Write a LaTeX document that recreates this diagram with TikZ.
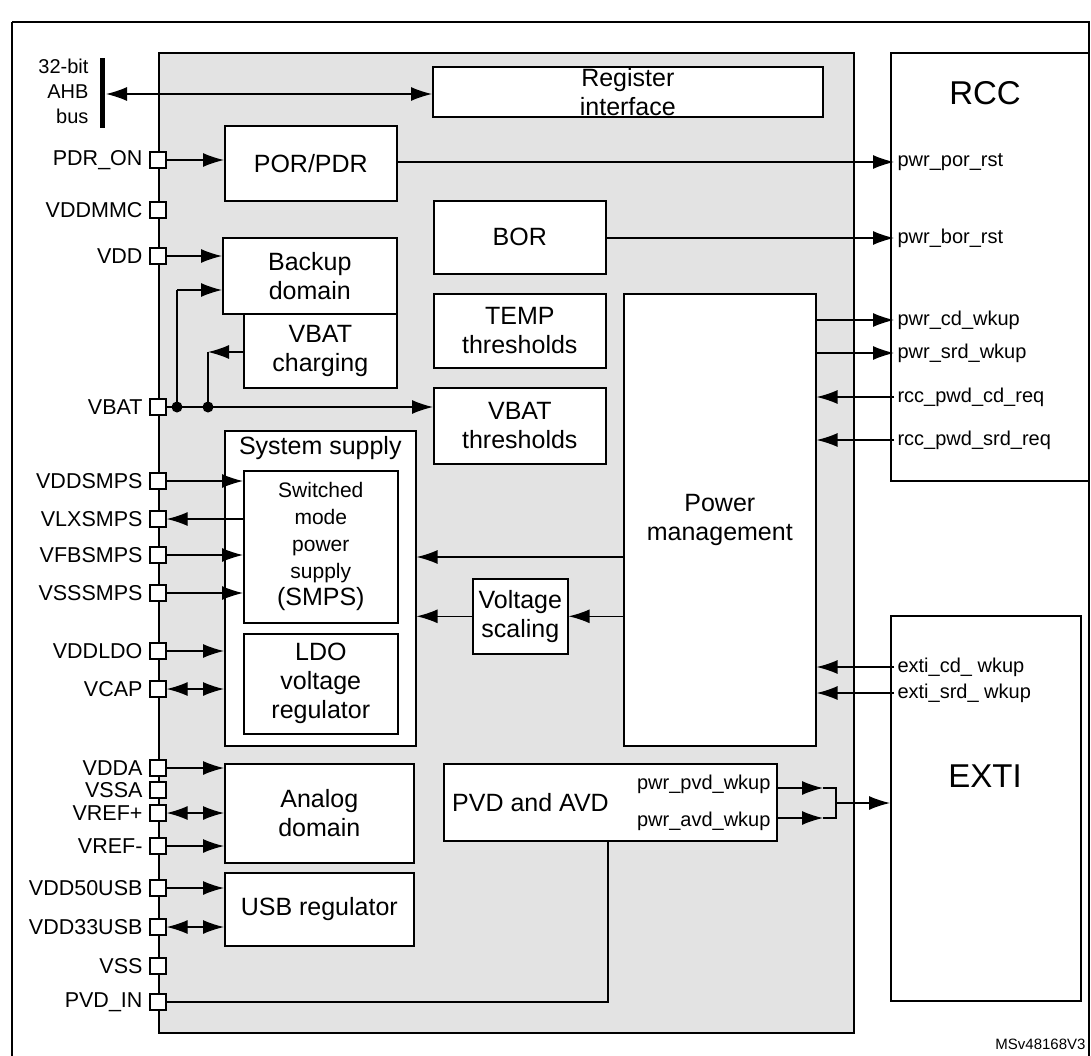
\documentclass[tikz,border=0pt]{standalone}
\usepackage{fontspec}
\setmainfont{Liberation Sans}
\usetikzlibrary{arrows.meta}
\begin{document}
\begin{tikzpicture}[x=1pt,y=-1pt,
 blk/.style={draw,fill=white,line width=1.6pt,align=center,inner sep=0pt},
 pin/.style={draw,fill=white,minimum size=16pt,inner sep=0pt,line width=1.3pt},
 plab/.style={anchor=east,font=\fontsize{21.5}{24}\selectfont},
 big/.style={font=\fontsize{25}{29}\selectfont},
 sig/.style={anchor=west,font=\fontsize{20}{22}\selectfont},
 ar/.style={-{Latex[length=21pt,width=14pt]},line width=1.3pt},
 dar/.style={{Latex[length=21pt,width=14pt]}-{Latex[length=21pt,width=14pt]},line width=1.3pt},
 ln/.style={line width=1.3pt}]
\useasboundingbox (0,0) rectangle (1091,1055);
\draw[line width=2pt] (12,22) -- (1089,22) -- (1089,1065) (12,22) -- (12,1065);
\node[draw,fill=black!11,line width=1.6pt,minimum width=695pt,minimum height=980pt,anchor=north west] (chip) at (158,52) {};
% AHB
\draw[line width=5pt] (102,58) coordinate (busT) -- (102,128) coordinate (busB);
\node[align=right,anchor=east,font=\fontsize{20}{25}\selectfont] (ahb) at (92,91) {32-bit\\AHB\\bus};
\node[blk,big,minimum width=390pt,minimum height=50pt,anchor=north west] (reg) at (432,66) {Register\\interface};
\coordinate (busM) at (106,94);
\draw[dar] (busM) -- (reg.west |- busM);
% boxes
\node[blk,big,minimum width=172pt,minimum height=75pt,anchor=north west] (por) at (224,125) {POR/PDR};
\node[blk,big,minimum width=172pt,minimum height=73pt,anchor=north west] (bor) at (433,200) {BOR};
\node[blk,big,minimum width=174pt,minimum height=76pt,anchor=north west] (bkp) at (222,237) {Backup\\domain};
\node[blk,big,minimum width=153pt,minimum height=74pt,anchor=north west] (chg) at (243,313) {VBAT\\charging};
\node[blk,big,minimum width=172pt,minimum height=74pt,anchor=north west] (temp) at (433,293) {TEMP\\thresholds};
\node[blk,big,minimum width=172pt,minimum height=76pt,anchor=north west] (vbt) at (433,387) {VBAT\\thresholds};
\node[blk,big,minimum width=192pt,minimum height=452pt,anchor=north west] (pm) at (623,293) {Power\\management};
\node[blk,minimum width=191pt,minimum height=315pt,anchor=north west] (sys) at (224,430) {};
\node[big,anchor=north,inner sep=0pt] (syst) at (sys.north) [yshift=-6pt] {System supply};
\node[blk,minimum width=154pt,minimum height=152pt,anchor=north west,font=\fontsize{21}{27}\selectfont] (smps) at (243,470) {Switched\\mode\\power\\supply\\{\fontsize{25}{27}\selectfont(SMPS)}};
\node[blk,big,minimum width=154pt,minimum height=100pt,anchor=north west] (ldo) at (243,633) {LDO\\voltage\\regulator};
\node[blk,big,minimum width=95pt,minimum height=75pt,anchor=north west] (vs) at (472,578) {Voltage\\scaling};
\node[blk,big,minimum width=189pt,minimum height=99pt,anchor=north west] (ana) at (224,763) {Analog\\domain};
\node[blk,big,minimum width=189pt,minimum height=73pt,anchor=north west] (usb) at (224,872) {USB regulator};
\node[blk,minimum width=333pt,minimum height=77pt,anchor=north west] (pvd) at (443,763) {};
\node[big,anchor=west,inner sep=0pt] (pvdt) at (452,803) {PVD and AVD};
\node[anchor=east,font=\fontsize{20}{22}\selectfont] (pvdo) at (774,784) {pwr\_pvd\_wkup};
\node[anchor=east,font=\fontsize{20}{22}\selectfont] (avdo) at (774,821) {pwr\_avd\_wkup};
% RCC / EXTI
\node[blk,minimum width=198pt,minimum height=428pt,anchor=north west] (rcc) at (890,52) {};
\node[font=\fontsize{33}{36}\selectfont] (rcct) at (985,93) {RCC};
\node[blk,minimum width=190pt,minimum height=385pt,anchor=north west] (exti) at (890,615) {};
\node[font=\fontsize{33}{36}\selectfont] (extit) at (985,776) {EXTI};
\foreach \n/\t/\y in {por/pwr\_por\_rst/162,bor/pwr\_bor\_rst/238,cd/pwr\_cd\_wkup/320,srd/pwr\_srd\_wkup/353,rcd/rcc\_pwd\_cd\_req/397,rsrd/rcc\_pwd\_srd\_req/440}
  \node[sig] (s\n) at (894,\y) {\t};
\node[sig] (ecd) at (894,667) {exti\_cd\_ wkup};
\node[sig] (esrd) at (894,693) {exti\_srd\_ wkup};
% pins
\foreach \n/\t/\y in {pdr/PDR\_ON/160,mmc/VDDMMC/210,vdd/VDD/256,vbat/VBAT/407,dsmps/VDDSMPS/481,lx/VLXSMPS/519,fb/VFBSMPS/555,ss/VSSSMPS/593,ldo/VDDLDO/651,cap/VCAP/689,vdda/VDDA/768,vssa/VSSA/790,rp/VREF+/813,rm/VREF-/846,u50/VDD50USB/888,u33/VDD33USB/927,vss/VSS/966,pin/PVD\_IN/1002}
 {\node[pin] (p\n) at (158,\y) {};
  \node[plab] (l\n) at (146,\y) {\t};}
% connections
\draw[ar] (ppdr) -- (por.west |- ppdr);
\draw[ar] (por.east |- spor.west) -- (spor.west);
\draw[ar] (bor.east |- sbor.west) -- (sbor.west);
\draw[ar] (pvdd) -- (bkp.west |- pvdd);
\coordinate (d1) at (177,407); \coordinate (d2) at (208,407);
\coordinate (b1) at (177,290); \coordinate (c1) at (208,352);
\draw[ln] (d1) -- (b1); \draw[ar] (b1) -- (bkp.west |- b1);
\draw[ar] (chg.west |- c1) -- (c1); \draw[ln] (c1) -- (d2);
\draw[ar] (pvbat) -- (vbt.west |- pvbat);
\fill (d1) circle (5.5pt) (d2) circle (5.5pt);
\draw[ar] (pm.east |- scd.west) -- (scd.west);
\draw[ar] (pm.east |- ssrd.west) -- (ssrd.west);
\draw[ar] (srcd.west) -- (pm.east |- srcd.west);
\draw[ar] (srsrd.west) -- (pm.east |- srsrd.west);
\draw[ar] (ecd.west) -- (pm.east |- ecd.west);
\draw[ar] (esrd.west) -- (pm.east |- esrd.west);
\draw[ar] (pdsmps) -- (smps.west |- pdsmps);
\draw[ar] (smps.west |- plx) -- (plx);
\draw[ar] (pfb) -- (smps.west |- pfb);
\draw[ar] (pss) -- (smps.west |- pss);
\draw[ar] (pldo) -- (sys.west |- pldo);
\draw[dar] (pcap) -- (sys.west |- pcap);
\coordinate (pmy) at (623,557);
\draw[ar] (pmy) -- (sys.east |- pmy);
\draw[ar] (pm.west |- vs.east) -- (vs.east);
\draw[ar] (vs.west) -- (sys.east |- vs.west);
\draw[ar] (pvdda) -- (ana.west |- pvdda);
\draw[dar] (prp) -- (ana.west |- prp);
\draw[ar] (prm) -- (ana.west |- prm);
\draw[ar] (pu50) -- (usb.west |- pu50);
\draw[dar] (pu33) -- (usb.west |- pu33);
\coordinate (pvdb) at (608,1002);
\draw[ln] (ppin) -- (pvdb) -- (pvdb |- pvd.south);
\coordinate (a1) at (823,788); \coordinate (a2) at (823,818);
\coordinate (k) at (836,803);
\draw[ar] (pvd.east |- a1) -- (a1); \draw[ar] (pvd.east |- a2) -- (a2);
\draw[ln] (a1) -- (836,788) -- (836,818) -- (a2);
\draw[ar] (k) -- (exti.west |- k);
\node[anchor=south east,font=\fontsize{15}{17}\selectfont] (ms) at (1089,1053) {MSv48168V3};
\end{tikzpicture}
\end{document}
